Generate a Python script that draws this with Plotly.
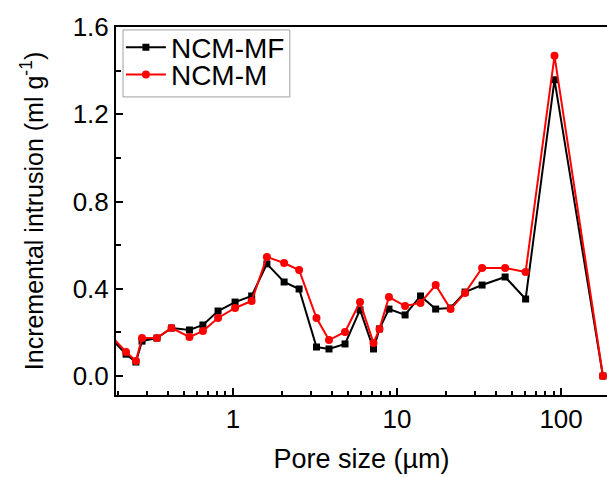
import plotly.graph_objects as go

pore_size = [0.17, 0.223, 0.256, 0.279, 0.344, 0.422, 0.543, 0.656, 0.811, 1.03, 1.30,
             1.61, 2.05, 2.53, 3.23, 3.85, 4.82, 5.95, 7.19, 7.82, 8.93, 11.2, 13.9,
             17.2, 21.2, 26.0, 33.0, 45.6, 60.8, 91.2, 180]

ncm_mf = [0.195, 0.10, 0.064, 0.16, 0.174, 0.22, 0.211, 0.234, 0.298, 0.339, 0.367,
          0.514, 0.431, 0.399, 0.133, 0.124, 0.147, 0.303, 0.124, 0.216, 0.307, 0.28,
          0.367, 0.307, 0.312, 0.385, 0.417, 0.454, 0.353, 1.358, 0.0]

ncm_m = [0.205, 0.11, 0.069, 0.174, 0.174, 0.22, 0.179, 0.206, 0.266, 0.312, 0.344,
         0.546, 0.518, 0.486, 0.266, 0.165, 0.202, 0.339, 0.151, 0.216, 0.362, 0.321,
         0.335, 0.417, 0.307, 0.381, 0.495, 0.495, 0.477, 1.468, 0.0]

x_tick_vals = [1, 10, 100]
x_tick_text = ["1", "10", "100"]
x_minor_vals = [0.2, 0.3, 0.4, 0.5, 0.6, 0.7, 0.8, 0.9,
                2, 3, 4, 5, 6, 7, 8, 9, 20, 30, 40, 50, 60, 70, 80, 90]
y_tick_vals = [0.0, 0.4, 0.8, 1.2, 1.6]
y_tick_text = ["0.0", "0.4", "0.8", "1.2", "1.6"]
y_minor_vals = [0.2, 0.6, 1.0, 1.4]

FONT = "Arial, Liberation Sans, sans-serif"

fig = go.Figure()
fig.add_trace(go.Scatter(
    x=pore_size, y=ncm_mf, name="NCM-MF", mode="lines+markers",
    line=dict(color="black", width=2),
    marker=dict(symbol="square", size=7, color="black"),
    legend="legend",
))
fig.add_trace(go.Scatter(
    x=pore_size, y=ncm_m, name="NCM-M", mode="lines+markers",
    line=dict(color="#ff0000", width=2),
    marker=dict(symbol="circle", size=8, color="#ff0000"),
    legend="legend2",
))

legend_style = dict(
    xanchor="left", yanchor="middle",
    bgcolor="rgba(255,255,255,0)", borderwidth=0,
    font=dict(size=28, family=FONT, color="black"),
    itemwidth=40,
)

fig.update_layout(
    width=607, height=477,
    margin=dict(l=116, r=0, t=27, b=82, pad=0),
    paper_bgcolor="white", plot_bgcolor="white",
    font=dict(family=FONT, color="black"),
    showlegend=True,
    legend=dict(x=0.01, y=0.944, **legend_style),
    legend2=dict(x=0.01, y=0.870, **legend_style),
    shapes=[dict(type="rect", xref="paper", yref="paper",
                 x0=0.0143, x1=0.354, y0=0.810, y1=0.992,
                 line=dict(color="#a0a0a0", width=1),
                 fillcolor="rgba(0,0,0,0)", layer="above")],
)

fig.update_xaxes(
    type="log", range=[-0.713, 2.280],
    tickmode="array", tickvals=x_tick_vals, ticktext=x_tick_text,
    ticks="inside", ticklen=7, tickwidth=1.5, tickcolor="black",
    minor=dict(tickmode="array", tickvals=x_minor_vals, ticks="inside",
               ticklen=4, tickwidth=1.5, tickcolor="black", showgrid=False),
    showline=True, linecolor="black", linewidth=2, mirror=True,
    showgrid=False, zeroline=False,
    tickfont=dict(size=26, family=FONT, color="black"),
    title=dict(text="Pore size (µm)", font=dict(size=27, family=FONT, color="black"),
               standoff=16),
)
fig.update_yaxes(
    range=[-0.087, 1.6],
    tickmode="array", tickvals=y_tick_vals, ticktext=y_tick_text,
    ticks="inside", ticklen=7, tickwidth=1.5, tickcolor="black",
    minor=dict(tickmode="array", tickvals=y_minor_vals, ticks="inside",
               ticklen=5, tickwidth=1.5, tickcolor="black", showgrid=False),
    showline=True, linecolor="black", linewidth=2, mirror=False,
    showgrid=False, zeroline=False,
    tickfont=dict(size=26, family=FONT, color="black"),
    title=dict(text="Incremental intrusion (ml g<sup>-1</sup>)",
               font=dict(size=25, family=FONT, color="black"), standoff=22),
)

fig.write_html(
    "out.html",
    config={"displayModeBar": False},
    post_script="document.body.style.margin='0';document.body.style.padding='0';"
                "document.body.style.overflow='hidden';"
                "document.documentElement.style.overflow='hidden';",
)
